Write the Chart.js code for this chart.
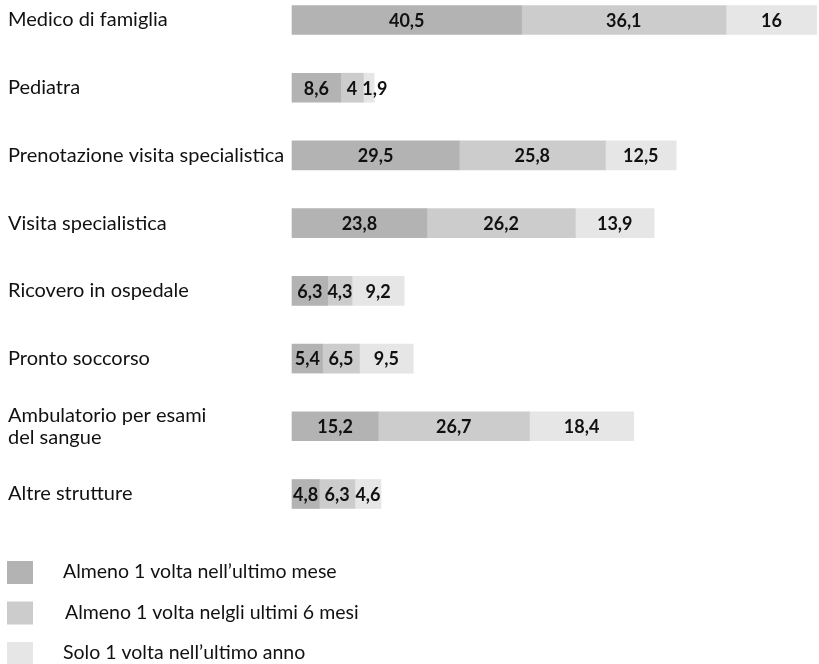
<!DOCTYPE html>
<html><head><meta charset="utf-8">
<script src="https://cdn.jsdelivr.net/npm/chart.js@4.4.0/dist/chart.umd.min.js"></script>
<style>html,body{margin:0;padding:0;background:#fff}</style>
</head><body>
<canvas id="c" width="819" height="664"></canvas>
<script>
const categories = ['Medico di famiglia', 'Pediatra', 'Prenotazione visita specialistica', 'Visita specialistica', 'Ricovero in ospedale', 'Pronto soccorso', ['Ambulatorio per esami', 'del sangue'], 'Altre strutture'];
const seriesNames = ['Almeno 1 volta nell\u2019ultimo mese', 'Almeno 1 volta nelgli ultimi 6 mesi', 'Solo 1 volta nell\u2019ultimo anno'];
const lastMonth = [40.5, 8.6, 29.5, 23.8, 6.3, 5.4, 15.2, 4.8];
const last6Months = [36.1, 4, 25.8, 26.2, 4.3, 6.5, 26.7, 6.3];
const onceLastYear = [16, 1.9, 12.5, 13.9, 9.2, 9.5, 18.4, 4.6];
const colors = ['#b3b3b3', '#cccccc', '#e6e6e6'];

const FONT = 'Lato';

const valueLabels = {
  id: 'valueLabels',
  afterDatasetsDraw(chart) {
    const ctx = chart.ctx;
    ctx.save();
    ctx.font = 'bold 18px ' + FONT;
    ctx.fillStyle = '#111';
    ctx.textAlign = 'center';
    ctx.textBaseline = 'middle';
    const n = chart.data.labels.length;
    for (let j = 0; j < n; j++) {
      let prevRight = -Infinity;
      chart.data.datasets.forEach((ds, i) => {
        const el = chart.getDatasetMeta(i).data[j];
        const p = el.getCenterPoint();
        const txt = String(ds.data[j]).replace('.', ',');
        const w = ctx.measureText(txt).width;
        let x = p.x;
        if (x - w / 2 < prevRight + 5) x = prevRight + 5 + w / 2;
        prevRight = x + w / 2;
        ctx.fillText(txt, x, p.y + 1);
      });
    }
    ctx.restore();
  }
};

const stackedLegend = {
  id: 'stackedLegend',
  afterDraw(chart) {
    const ctx = chart.ctx;
    ctx.save();
    ctx.font = '19.5px ' + FONT;
    ctx.textAlign = 'left';
    ctx.textBaseline = 'middle';
    chart.data.datasets.forEach((ds, i) => {
      const top = 561 + i * 40.5;
      ctx.fillStyle = ds.backgroundColor;
      ctx.fillRect(7, top, 26, 23);
      ctx.fillStyle = '#111';
      ctx.fillText(ds.label, 63 + (i === 1 ? 2 : 0), top + 11);
    });
    ctx.restore();
  }
};

const datasets = [lastMonth, last6Months, onceLastYear].map((d, i) => ({
  label: seriesNames[i],
  data: d,
  backgroundColor: colors[i],
  borderWidth: 0,
  barThickness: 29,
  clip: false
}));

new Chart(document.getElementById('c'), {
  type: 'bar',
  data: { labels: categories, datasets },
  options: {
    indexAxis: 'y',
    responsive: false,
    animation: false,
    layout: { padding: { left: 8, top: 20, right: 0, bottom: 170 } },
    plugins: { legend: { display: false }, tooltip: { enabled: false } },
    scales: {
      x: { stacked: true, min: 0, max: 93, display: false },
      y: {
        stacked: true,
        offset: false,
        grid: { display: false },
        border: { display: false },
        ticks: {
          autoSkip: false,
          crossAlign: 'far',
          color: '#111',
          padding: 0,
          font: { family: FONT, size: 20, lineHeight: 1.1 }
        },
        afterFit(s) { s.width = 284; }
      }
    }
  },
  plugins: [valueLabels, stackedLegend]
});
</script>
</body></html>
